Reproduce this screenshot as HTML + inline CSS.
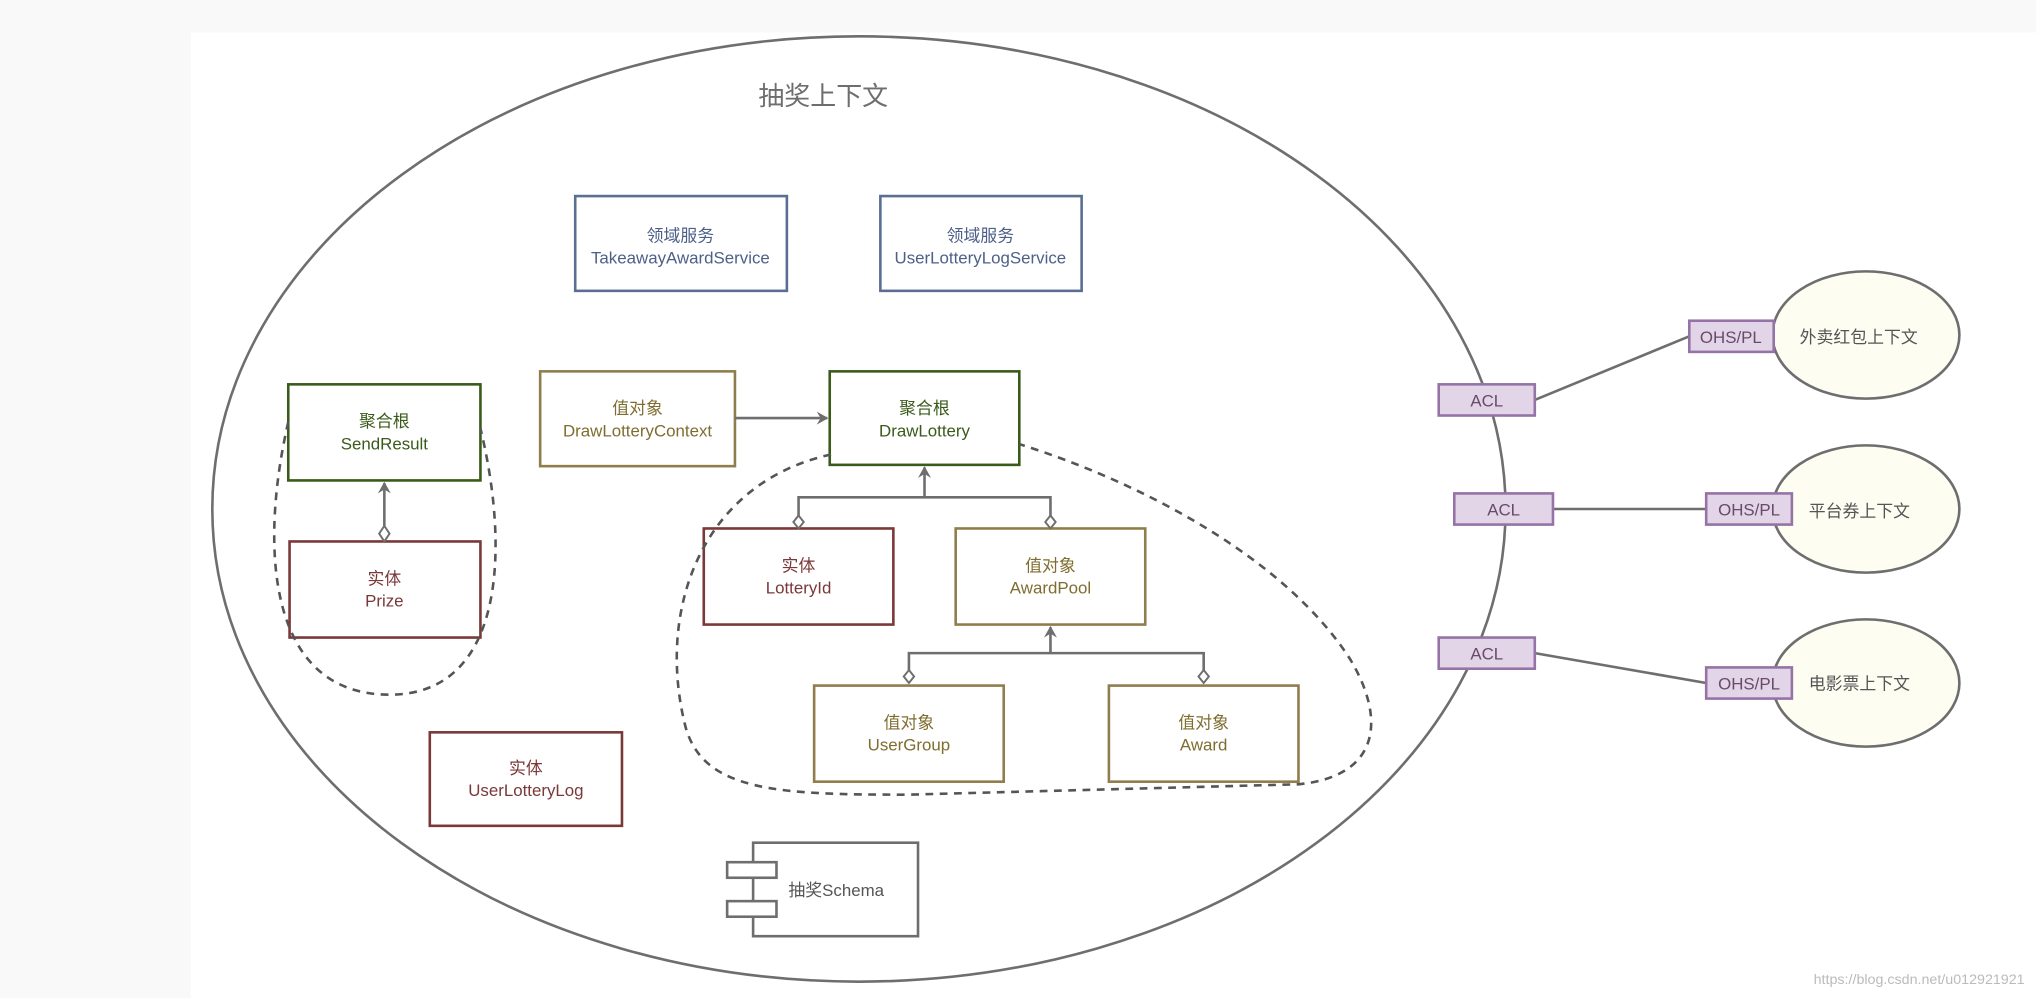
<!DOCTYPE html>
<html><head><meta charset="utf-8"><style>
html,body{margin:0;padding:0;background:#f9f9f9;}
svg{display:block;}
text{font-family:"Liberation Sans","Noto Sans CJK SC",sans-serif;font-size:13px;text-anchor:middle;}
</style></head><body>
<svg width="2036" height="998" viewBox="0 0 1568 768.6" xmlns="http://www.w3.org/2000/svg">
<defs>
<marker id="ar" markerWidth="10" markerHeight="10" refX="8" refY="5" orient="auto" markerUnits="userSpaceOnUse"><path d="M0,0 L9,5 L0,10 L3,5 Z" fill="#6e6e6e"/></marker>
</defs>
<rect x="0" y="0" width="1568" height="769" fill="#f9f9f9"/>
<rect x="147" y="25" width="1421" height="744" fill="#fff"/>
<ellipse cx="661.5" cy="392" rx="498" ry="364" fill="none" stroke="#6e6e6e" stroke-width="2"/>
<text x="634" y="81" style="font-size:20px" fill="#6e6e6e">抽奖上下文</text>

<g fill="none" stroke="#5a6e94" stroke-width="2">
<rect x="443" y="151" width="163" height="73"/><rect x="678" y="151" width="155" height="73"/></g>
<g fill="#4d6088"><text x="524" y="186">领域服务</text><text x="524" y="203">TakeawayAwardService</text>
<text x="755" y="186">领域服务</text><text x="755" y="203">UserLotteryLogService</text></g>

<g fill="none" stroke="#8f7d4c" stroke-width="2">
<rect x="416" y="286" width="150" height="73"/><rect x="736" y="407" width="146" height="74"/>
<rect x="627" y="528" width="146" height="74"/><rect x="854" y="528" width="146" height="74"/></g>
<g fill="#7f6d30"><text x="491" y="319">值对象</text><text x="491" y="336">DrawLotteryContext</text>
<text x="809" y="440">值对象</text><text x="809" y="457">AwardPool</text>
<text x="700" y="561">值对象</text><text x="700" y="578">UserGroup</text>
<text x="927" y="561">值对象</text><text x="927" y="578">Award</text></g>

<g fill="none" stroke="#3a5a1a" stroke-width="2">
<rect x="639" y="286" width="146" height="72"/><rect x="222" y="296" width="148" height="74"/></g>
<g fill="#3a5a1a"><text x="712" y="319">聚合根</text><text x="712" y="336">DrawLottery</text>
<text x="296" y="329">聚合根</text><text x="296" y="346">SendResult</text></g>

<g fill="none" stroke="#7a3838" stroke-width="2">
<rect x="223" y="417" width="147" height="74"/><rect x="542" y="407" width="146" height="74"/><rect x="331" y="564" width="148" height="72"/></g>
<g fill="#7a3838"><text x="296" y="450">实体</text><text x="296" y="467">Prize</text>
<text x="615" y="440">实体</text><text x="615" y="457">LotteryId</text>
<text x="405" y="596">实体</text><text x="405" y="613">UserLotteryLog</text></g>

<g fill="none" stroke="#6e6e6e" stroke-width="2">
<line x1="566" y1="322" x2="637" y2="322" marker-end="url(#ar)"/>
<line x1="712" y1="383" x2="712" y2="360" marker-end="url(#ar)"/>
<polyline points="615,400 615,383 809,383 809,400"/>
<line x1="809" y1="503" x2="809" y2="483" marker-end="url(#ar)"/>
<polyline points="700,521 700,503 927,503 927,521"/>
<line x1="296" y1="405" x2="296" y2="372" marker-end="url(#ar)"/>
</g>
<g fill="#fff" stroke="#6e6e6e" stroke-width="1.5">
<path d="M615,397 l4,5 l-4,5 l-4,-5 Z"/><path d="M809,397 l4,5 l-4,5 l-4,-5 Z"/>
<path d="M700,516 l4,5 l-4,5 l-4,-5 Z"/><path d="M927,516 l4,5 l-4,5 l-4,-5 Z"/>
<path d="M296,405 l4,6 l-4,6 l-4,-6 Z"/>
</g>

<g fill="none" stroke="#555" stroke-width="2" stroke-dasharray="6,5">
<path d="M222,325 C200,420 205,535 300,535 C390,535 392,420 370,330"/>
<path d="M640,350 C540,372 505,470 528,560 C542,610 600,612 700,612 L1000,604 C1062,598 1068,555 1040,508 C990,430 880,372 785,342"/>
</g>

<g fill="none" stroke="#6e6e6e" stroke-width="2">
<rect x="580" y="649" width="127" height="72" fill="#fff"/>
<rect x="560" y="664" width="38" height="12" fill="#fff"/>
<rect x="560" y="694" width="38" height="12" fill="#fff"/>
</g>
<text x="644" y="690" fill="#555">抽奖Schema</text>

<g stroke="#6e6e6e" stroke-width="2">
<line x1="1182" y1="308" x2="1301" y2="259"/>
<line x1="1196" y1="392" x2="1314" y2="392"/>
<line x1="1182" y1="503" x2="1314" y2="526"/>
</g>
<g fill="#fdfdf2" stroke="#6e6e6e" stroke-width="2">
<ellipse cx="1437" cy="258" rx="72" ry="49"/>
<ellipse cx="1437" cy="392" rx="72" ry="49"/>
<ellipse cx="1437" cy="526" rx="72" ry="49"/>
</g>
<g fill="#e1d5e7" stroke="#9673a6" stroke-width="2">
<rect x="1108" y="296" width="74" height="24"/><rect x="1120" y="380" width="76" height="24"/><rect x="1108" y="491" width="74" height="24"/>
<rect x="1301" y="247" width="65" height="24"/><rect x="1314" y="380" width="66" height="24"/><rect x="1314" y="514" width="66" height="24"/>
</g>
<g fill="#6a4a6a"><text x="1145" y="313">ACL</text><text x="1158" y="397">ACL</text><text x="1145" y="508">ACL</text>
<text x="1333" y="264">OHS/PL</text><text x="1347" y="397">OHS/PL</text><text x="1347" y="531">OHS/PL</text></g>
<g fill="#555"><text x="1386" y="264" style="text-anchor:start">外卖红包上下文</text>
<text x="1393" y="398" style="text-anchor:start">平台券上下文</text>
<text x="1393" y="531" style="text-anchor:start">电影票上下文</text></g>
<text x="1478" y="758" fill="#bbb" style="font-size:11px">https://blog.csdn.net/u012921921</text>
</svg>
</body></html>
